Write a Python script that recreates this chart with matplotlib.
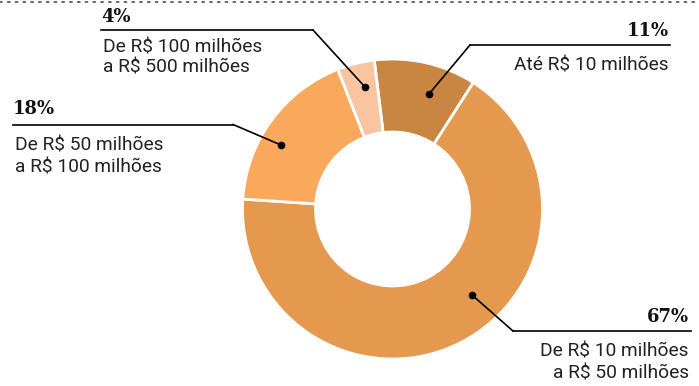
import matplotlib.pyplot as plt

# slice data, clockwise from the top
categories = ['Até R$ 10 milhões', 'De R$ 10 milhões\na R$ 50 milhões',
              'De R$ 50 milhões\na R$ 100 milhões', 'De R$ 100 milhões\na R$ 500 milhões']
shares = [11, 67, 18, 4]
pct_labels = ['11%', '67%', '18%', '4%']
colors = ['#C88642', '#E5994F', '#FAA85B', '#FBC4A0']

W, H = 699, 386
fig = plt.figure(figsize=(W / 100, H / 100), dpi=100)
ax = fig.add_axes([0, 0, 1, 1])

def py(y):
    # pixel row (top origin) -> data y
    return H - y

cx, cy, r_out, r_in = 392.5, 209, 150, 77
ax.pie(shares, colors=colors, startangle=97, counterclock=False,
       center=(cx, py(cy)), radius=r_out,
       wedgeprops=dict(width=r_out - r_in, edgecolor='white', linewidth=2))

ax.set_xlim(0, W)
ax.set_ylim(0, H)
ax.set_aspect('equal')
ax.axis('off')

# top dotted rule
ax.plot([0, W], [py(2), py(2)], color='#666666', lw=1.4, ls=(0, (1, 3)),
        solid_capstyle='round', dash_capstyle='round')

sans = ['Roboto', 'DejaVu Sans']
serif = ['DejaVu Serif']

# label layout: text x, ha, pct baseline, rule y, rule x-extent, elbow, dot, text baseline
layout = [
    dict(x=669, ha='right', pct_y=36, rule_y=45, rule=(470, 670), elbow=(470, 45), dot=(429, 94), txt_y=71),
    dict(x=689, ha='right', pct_y=322, rule_y=331, rule=(513, 691), elbow=(513, 331), dot=(472, 295), txt_y=357),
    dict(x=13, ha='left', pct_y=114, rule_y=124.5, rule=(13, 233), elbow=(233, 124.5), dot=(281, 145), txt_y=151),
    dict(x=101, ha='left', pct_y=22, rule_y=30, rule=(101, 313), elbow=(313, 30), dot=(365, 87), txt_y=52),
]

for cat, pct, L in zip(categories, pct_labels, layout):
    ax.plot(L['rule'], [py(L['rule_y'])] * 2, color='black', lw=1.2)
    ax.plot([L['elbow'][0], L['dot'][0]], [py(L['elbow'][1]), py(L['dot'][1])], color='black', lw=1.2)
    ax.plot(L['dot'][0], py(L['dot'][1]), 'o', color='black', ms=4.5)
    ax.text(L['x'], py(L['pct_y']), pct, ha=L['ha'], va='baseline',
            fontsize=13, fontweight='bold', family=serif, color='#111111')
    for i, line in enumerate(cat.split('\n')):
        ax.text(L['x'] + (2 if L['ha'] == 'left' else 0), py(L['txt_y'] + i * 21), line,
                ha=L['ha'], va='baseline', fontsize=13.8, family=sans, color='#222222',
                fontstretch='condensed')

fig.savefig('out.png', dpi=100)
